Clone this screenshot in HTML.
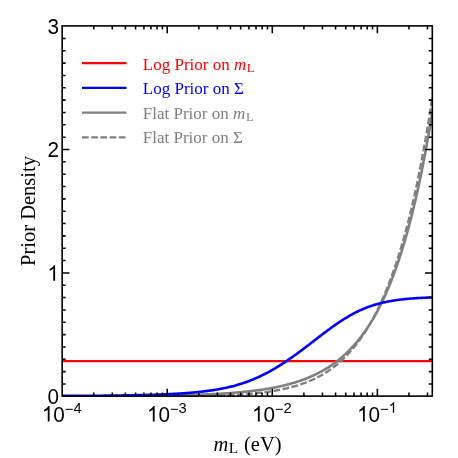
<!DOCTYPE html><html><head><meta charset="utf-8"><style>html,body{margin:0;padding:0;background:#fff}svg{display:block;will-change:transform}text{font-family:"Liberation Sans",sans-serif;fill:#000}.s{font-family:"Liberation Serif",serif}</style></head><body>
<svg width="458" height="458" viewBox="0 0 458 458">
<rect width="458" height="458" fill="#fff"/>
<defs><clipPath id="c"><rect x="61.15" y="25.90" width="371.85" height="371.00"/></clipPath></defs>
<g clip-path="url(#c)" fill="none" stroke-linejoin="round">
<path d="M62.15,361.22 L63.08,361.22 L64.01,361.22 L64.93,361.22 L65.86,361.22 L66.79,361.22 L67.72,361.22 L68.64,361.22 L69.57,361.22 L70.50,361.22 L71.43,361.22 L72.35,361.22 L73.28,361.22 L74.21,361.22 L75.14,361.22 L76.07,361.22 L76.99,361.22 L77.92,361.22 L78.85,361.22 L79.78,361.22 L80.70,361.22 L81.63,361.22 L82.56,361.22 L83.49,361.22 L84.41,361.22 L85.34,361.22 L86.27,361.22 L87.20,361.22 L88.13,361.22 L89.05,361.22 L89.98,361.22 L90.91,361.22 L91.84,361.22 L92.76,361.22 L93.69,361.22 L94.62,361.22 L95.55,361.22 L96.47,361.22 L97.40,361.22 L98.33,361.22 L99.26,361.22 L100.19,361.22 L101.11,361.22 L102.04,361.22 L102.97,361.22 L103.90,361.22 L104.82,361.22 L105.75,361.22 L106.68,361.22 L107.61,361.22 L108.53,361.22 L109.46,361.22 L110.39,361.22 L111.32,361.22 L112.25,361.22 L113.17,361.22 L114.10,361.22 L115.03,361.22 L115.96,361.22 L116.88,361.22 L117.81,361.22 L118.74,361.22 L119.67,361.22 L120.59,361.22 L121.52,361.22 L122.45,361.22 L123.38,361.22 L124.31,361.22 L125.23,361.22 L126.16,361.22 L127.09,361.22 L128.02,361.22 L128.94,361.22 L129.87,361.22 L130.80,361.22 L131.73,361.22 L132.65,361.22 L133.58,361.22 L134.51,361.22 L135.44,361.22 L136.37,361.22 L137.29,361.22 L138.22,361.22 L139.15,361.22 L140.08,361.22 L141.00,361.22 L141.93,361.22 L142.86,361.22 L143.79,361.22 L144.71,361.22 L145.64,361.22 L146.57,361.22 L147.50,361.22 L148.43,361.22 L149.35,361.22 L150.28,361.22 L151.21,361.22 L152.14,361.22 L153.06,361.22 L153.99,361.22 L154.92,361.22 L155.85,361.22 L156.77,361.22 L157.70,361.22 L158.63,361.22 L159.56,361.22 L160.49,361.22 L161.41,361.22 L162.34,361.22 L163.27,361.22 L164.20,361.22 L165.12,361.22 L166.05,361.22 L166.98,361.22 L167.91,361.22 L168.83,361.22 L169.76,361.22 L170.69,361.22 L171.62,361.22 L172.55,361.22 L173.47,361.22 L174.40,361.22 L175.33,361.22 L176.26,361.22 L177.18,361.22 L178.11,361.22 L179.04,361.22 L179.97,361.22 L180.89,361.22 L181.82,361.22 L182.75,361.22 L183.68,361.22 L184.61,361.22 L185.53,361.22 L186.46,361.22 L187.39,361.22 L188.32,361.22 L189.24,361.22 L190.17,361.22 L191.10,361.22 L192.03,361.22 L192.95,361.22 L193.88,361.22 L194.81,361.22 L195.74,361.22 L196.67,361.22 L197.59,361.22 L198.52,361.22 L199.45,361.22 L200.38,361.22 L201.30,361.22 L202.23,361.22 L203.16,361.22 L204.09,361.22 L205.01,361.22 L205.94,361.22 L206.87,361.22 L207.80,361.22 L208.73,361.22 L209.65,361.22 L210.58,361.22 L211.51,361.22 L212.44,361.22 L213.36,361.22 L214.29,361.22 L215.22,361.22 L216.15,361.22 L217.07,361.22 L218.00,361.22 L218.93,361.22 L219.86,361.22 L220.79,361.22 L221.71,361.22 L222.64,361.22 L223.57,361.22 L224.50,361.22 L225.42,361.22 L226.35,361.22 L227.28,361.22 L228.21,361.22 L229.13,361.22 L230.06,361.22 L230.99,361.22 L231.92,361.22 L232.85,361.22 L233.77,361.22 L234.70,361.22 L235.63,361.22 L236.56,361.22 L237.48,361.22 L238.41,361.22 L239.34,361.22 L240.27,361.22 L241.19,361.22 L242.12,361.22 L243.05,361.22 L243.98,361.22 L244.91,361.22 L245.83,361.22 L246.76,361.22 L247.69,361.22 L248.62,361.22 L249.54,361.22 L250.47,361.22 L251.40,361.22 L252.33,361.22 L253.26,361.22 L254.18,361.22 L255.11,361.22 L256.04,361.22 L256.97,361.22 L257.89,361.22 L258.82,361.22 L259.75,361.22 L260.68,361.22 L261.60,361.22 L262.53,361.22 L263.46,361.22 L264.39,361.22 L265.32,361.22 L266.24,361.22 L267.17,361.22 L268.10,361.22 L269.03,361.22 L269.95,361.22 L270.88,361.22 L271.81,361.22 L272.74,361.22 L273.66,361.22 L274.59,361.22 L275.52,361.22 L276.45,361.22 L277.38,361.22 L278.30,361.22 L279.23,361.22 L280.16,361.22 L281.09,361.22 L282.01,361.22 L282.94,361.22 L283.87,361.22 L284.80,361.22 L285.72,361.22 L286.65,361.22 L287.58,361.22 L288.51,361.22 L289.44,361.22 L290.36,361.22 L291.29,361.22 L292.22,361.22 L293.15,361.22 L294.07,361.22 L295.00,361.22 L295.93,361.22 L296.86,361.22 L297.78,361.22 L298.71,361.22 L299.64,361.22 L300.57,361.22 L301.50,361.22 L302.42,361.22 L303.35,361.22 L304.28,361.22 L305.21,361.22 L306.13,361.22 L307.06,361.22 L307.99,361.22 L308.92,361.22 L309.84,361.22 L310.77,361.22 L311.70,361.22 L312.63,361.22 L313.56,361.22 L314.48,361.22 L315.41,361.22 L316.34,361.22 L317.27,361.22 L318.19,361.22 L319.12,361.22 L320.05,361.22 L320.98,361.22 L321.90,361.22 L322.83,361.22 L323.76,361.22 L324.69,361.22 L325.62,361.22 L326.54,361.22 L327.47,361.22 L328.40,361.22 L329.33,361.22 L330.25,361.22 L331.18,361.22 L332.11,361.22 L333.04,361.22 L333.96,361.22 L334.89,361.22 L335.82,361.22 L336.75,361.22 L337.68,361.22 L338.60,361.22 L339.53,361.22 L340.46,361.22 L341.39,361.22 L342.31,361.22 L343.24,361.22 L344.17,361.22 L345.10,361.22 L346.02,361.22 L346.95,361.22 L347.88,361.22 L348.81,361.22 L349.74,361.22 L350.66,361.22 L351.59,361.22 L352.52,361.22 L353.45,361.22 L354.37,361.22 L355.30,361.22 L356.23,361.22 L357.16,361.22 L358.08,361.22 L359.01,361.22 L359.94,361.22 L360.87,361.22 L361.80,361.22 L362.72,361.22 L363.65,361.22 L364.58,361.22 L365.51,361.22 L366.43,361.22 L367.36,361.22 L368.29,361.22 L369.22,361.22 L370.14,361.22 L371.07,361.22 L372.00,361.22 L372.93,361.22 L373.86,361.22 L374.78,361.22 L375.71,361.22 L376.64,361.22 L377.57,361.22 L378.49,361.22 L379.42,361.22 L380.35,361.22 L381.28,361.22 L382.20,361.22 L383.13,361.22 L384.06,361.22 L384.99,361.22 L385.92,361.22 L386.84,361.22 L387.77,361.22 L388.70,361.22 L389.63,361.22 L390.55,361.22 L391.48,361.22 L392.41,361.22 L393.34,361.22 L394.26,361.22 L395.19,361.22 L396.12,361.22 L397.05,361.22 L397.98,361.22 L398.90,361.22 L399.83,361.22 L400.76,361.22 L401.69,361.22 L402.61,361.22 L403.54,361.22 L404.47,361.22 L405.40,361.22 L406.32,361.22 L407.25,361.22 L408.18,361.22 L409.11,361.22 L410.04,361.22 L410.96,361.22 L411.89,361.22 L412.82,361.22 L413.75,361.22 L414.67,361.22 L415.60,361.22 L416.53,361.22 L417.46,361.22 L418.38,361.22 L419.31,361.22 L420.24,361.22 L421.17,361.22 L422.10,361.22 L423.02,361.22 L423.95,361.22 L424.88,361.22 L425.81,361.22 L426.73,361.22 L427.66,361.22 L428.59,361.22 L429.52,361.22 L430.44,361.22 L431.37,361.22 L432.30,361.22" stroke="#ff0000" stroke-width="2.3"/>
<path d="M62.15,396.36 L63.08,396.36 L64.01,396.36 L64.93,396.36 L65.86,396.36 L66.79,396.36 L67.72,396.35 L68.64,396.35 L69.57,396.35 L70.50,396.35 L71.43,396.35 L72.35,396.34 L73.28,396.34 L74.21,396.34 L75.14,396.34 L76.07,396.33 L76.99,396.33 L77.92,396.33 L78.85,396.33 L79.78,396.32 L80.70,396.32 L81.63,396.32 L82.56,396.32 L83.49,396.31 L84.41,396.31 L85.34,396.31 L86.27,396.31 L87.20,396.30 L88.13,396.30 L89.05,396.30 L89.98,396.29 L90.91,396.29 L91.84,396.29 L92.76,396.28 L93.69,396.28 L94.62,396.28 L95.55,396.27 L96.47,396.27 L97.40,396.27 L98.33,396.26 L99.26,396.26 L100.19,396.25 L101.11,396.25 L102.04,396.25 L102.97,396.24 L103.90,396.24 L104.82,396.23 L105.75,396.23 L106.68,396.22 L107.61,396.22 L108.53,396.21 L109.46,396.21 L110.39,396.20 L111.32,396.20 L112.25,396.19 L113.17,396.19 L114.10,396.18 L115.03,396.18 L115.96,396.17 L116.88,396.17 L117.81,396.16 L118.74,396.16 L119.67,396.15 L120.59,396.14 L121.52,396.14 L122.45,396.13 L123.38,396.12 L124.31,396.12 L125.23,396.11 L126.16,396.10 L127.09,396.10 L128.02,396.09 L128.94,396.08 L129.87,396.07 L130.80,396.07 L131.73,396.06 L132.65,396.05 L133.58,396.04 L134.51,396.03 L135.44,396.03 L136.37,396.02 L137.29,396.01 L138.22,396.00 L139.15,395.99 L140.08,395.98 L141.00,395.97 L141.93,395.96 L142.86,395.95 L143.79,395.94 L144.71,395.93 L145.64,395.92 L146.57,395.91 L147.50,395.90 L148.43,395.89 L149.35,395.87 L150.28,395.86 L151.21,395.85 L152.14,395.84 L153.06,395.82 L153.99,395.81 L154.92,395.80 L155.85,395.79 L156.77,395.77 L157.70,395.76 L158.63,395.74 L159.56,395.73 L160.49,395.71 L161.41,395.70 L162.34,395.68 L163.27,395.67 L164.20,395.65 L165.12,395.64 L166.05,395.62 L166.98,395.60 L167.91,395.58 L168.83,395.57 L169.76,395.55 L170.69,395.53 L171.62,395.51 L172.55,395.49 L173.47,395.47 L174.40,395.45 L175.33,395.43 L176.26,395.41 L177.18,395.39 L178.11,395.37 L179.04,395.35 L179.97,395.32 L180.89,395.30 L181.82,395.28 L182.75,395.25 L183.68,395.23 L184.61,395.20 L185.53,395.18 L186.46,395.15 L187.39,395.12 L188.32,395.10 L189.24,395.07 L190.17,395.04 L191.10,395.01 L192.03,394.98 L192.95,394.95 L193.88,394.92 L194.81,394.89 L195.74,394.86 L196.67,394.82 L197.59,394.79 L198.52,394.76 L199.45,394.72 L200.38,394.69 L201.30,394.65 L202.23,394.61 L203.16,394.58 L204.09,394.54 L205.01,394.50 L205.94,394.46 L206.87,394.42 L207.80,394.38 L208.73,394.33 L209.65,394.29 L210.58,394.24 L211.51,394.20 L212.44,394.15 L213.36,394.11 L214.29,394.06 L215.22,394.01 L216.15,393.96 L217.07,393.91 L218.00,393.86 L218.93,393.80 L219.86,393.75 L220.79,393.69 L221.71,393.64 L222.64,393.58 L223.57,393.52 L224.50,393.46 L225.42,393.40 L226.35,393.33 L227.28,393.27 L228.21,393.20 L229.13,393.14 L230.06,393.07 L230.99,393.00 L231.92,392.93 L232.85,392.86 L233.77,392.78 L234.70,392.71 L235.63,392.63 L236.56,392.55 L237.48,392.47 L238.41,392.39 L239.34,392.31 L240.27,392.22 L241.19,392.14 L242.12,392.05 L243.05,391.96 L243.98,391.87 L244.91,391.77 L245.83,391.67 L246.76,391.58 L247.69,391.48 L248.62,391.37 L249.54,391.27 L250.47,391.16 L251.40,391.06 L252.33,390.94 L253.26,390.83 L254.18,390.72 L255.11,390.60 L256.04,390.48 L256.97,390.36 L257.89,390.23 L258.82,390.10 L259.75,389.97 L260.68,389.84 L261.60,389.70 L262.53,389.56 L263.46,389.42 L264.39,389.28 L265.32,389.13 L266.24,388.98 L267.17,388.83 L268.10,388.67 L269.03,388.51 L269.95,388.35 L270.88,388.18 L271.81,388.01 L272.74,387.84 L273.66,387.66 L274.59,387.48 L275.52,387.30 L276.45,387.11 L277.38,386.92 L278.30,386.72 L279.23,386.52 L280.16,386.32 L281.09,386.11 L282.01,385.90 L282.94,385.68 L283.87,385.46 L284.80,385.23 L285.72,385.00 L286.65,384.77 L287.58,384.53 L288.51,384.28 L289.44,384.03 L290.36,383.78 L291.29,383.52 L292.22,383.25 L293.15,382.98 L294.07,382.71 L295.00,382.42 L295.93,382.14 L296.86,381.84 L297.78,381.54 L298.71,381.24 L299.64,380.92 L300.57,380.60 L301.50,380.28 L302.42,379.95 L303.35,379.61 L304.28,379.26 L305.21,378.91 L306.13,378.55 L307.06,378.18 L307.99,377.81 L308.92,377.42 L309.84,377.03 L310.77,376.63 L311.70,376.23 L312.63,375.81 L313.56,375.39 L314.48,374.95 L315.41,374.51 L316.34,374.06 L317.27,373.60 L318.19,373.13 L319.12,372.65 L320.05,372.17 L320.98,371.67 L321.90,371.16 L322.83,370.64 L323.76,370.11 L324.69,369.57 L325.62,369.02 L326.54,368.45 L327.47,367.88 L328.40,367.29 L329.33,366.69 L330.25,366.08 L331.18,365.46 L332.11,364.82 L333.04,364.17 L333.96,363.51 L334.89,362.83 L335.82,362.14 L336.75,361.44 L337.68,360.72 L338.60,359.98 L339.53,359.23 L340.46,358.47 L341.39,357.69 L342.31,356.89 L343.24,356.08 L344.17,355.25 L345.10,354.41 L346.02,353.54 L346.95,352.66 L347.88,351.76 L348.81,350.84 L349.74,349.91 L350.66,348.95 L351.59,347.98 L352.52,346.98 L353.45,345.96 L354.37,344.93 L355.30,343.87 L356.23,342.79 L357.16,341.69 L358.08,340.56 L359.01,339.41 L359.94,338.24 L360.87,337.05 L361.80,335.83 L362.72,334.58 L363.65,333.31 L364.58,332.01 L365.51,330.69 L366.43,329.34 L367.36,327.96 L368.29,326.56 L369.22,325.12 L370.14,323.66 L371.07,322.16 L372.00,320.63 L372.93,319.08 L373.86,317.49 L374.78,315.87 L375.71,314.21 L376.64,312.52 L377.57,310.80 L378.49,309.04 L379.42,307.24 L380.35,305.41 L381.28,303.54 L382.20,301.63 L383.13,299.69 L384.06,297.70 L384.99,295.67 L385.92,293.60 L386.84,291.49 L387.77,289.33 L388.70,287.13 L389.63,284.89 L390.55,282.60 L391.48,280.26 L392.41,277.87 L393.34,275.44 L394.26,272.95 L395.19,270.42 L396.12,267.83 L397.05,265.19 L397.98,262.49 L398.90,259.74 L399.83,256.93 L400.76,254.06 L401.69,251.14 L402.61,248.16 L403.54,245.11 L404.47,242.00 L405.40,238.83 L406.32,235.59 L407.25,232.29 L408.18,228.92 L409.11,225.48 L410.04,221.96 L410.96,218.38 L411.89,214.72 L412.82,210.99 L413.75,207.18 L414.67,203.30 L415.60,199.33 L416.53,195.28 L417.46,191.15 L418.38,186.93 L419.31,182.63 L420.24,178.24 L421.17,173.76 L422.10,169.18 L423.02,164.51 L423.95,159.75 L424.88,154.89 L425.81,149.93 L426.73,144.86 L427.66,139.70 L428.59,134.42 L429.52,129.04 L430.44,123.55 L431.37,117.95 L432.30,112.23" stroke="#808080" stroke-width="2.6"/>
<path d="M62.15,396.97 L63.08,396.97 L64.01,396.97 L64.93,396.97 L65.86,396.97 L66.79,396.97 L67.72,396.97 L68.64,396.96 L69.57,396.96 L70.50,396.96 L71.43,396.96 L72.35,396.96 L73.28,396.96 L74.21,396.96 L75.14,396.96 L76.07,396.96 L76.99,396.96 L77.92,396.96 L78.85,396.96 L79.78,396.95 L80.70,396.95 L81.63,396.95 L82.56,396.95 L83.49,396.95 L84.41,396.95 L85.34,396.95 L86.27,396.95 L87.20,396.95 L88.13,396.95 L89.05,396.94 L89.98,396.94 L90.91,396.94 L91.84,396.94 L92.76,396.94 L93.69,396.94 L94.62,396.94 L95.55,396.94 L96.47,396.93 L97.40,396.93 L98.33,396.93 L99.26,396.93 L100.19,396.93 L101.11,396.93 L102.04,396.93 L102.97,396.92 L103.90,396.92 L104.82,396.92 L105.75,396.92 L106.68,396.92 L107.61,396.92 L108.53,396.91 L109.46,396.91 L110.39,396.91 L111.32,396.91 L112.25,396.91 L113.17,396.90 L114.10,396.90 L115.03,396.90 L115.96,396.90 L116.88,396.90 L117.81,396.89 L118.74,396.89 L119.67,396.89 L120.59,396.89 L121.52,396.88 L122.45,396.88 L123.38,396.88 L124.31,396.88 L125.23,396.87 L126.16,396.87 L127.09,396.87 L128.02,396.87 L128.94,396.86 L129.87,396.86 L130.80,396.86 L131.73,396.85 L132.65,396.85 L133.58,396.85 L134.51,396.84 L135.44,396.84 L136.37,396.84 L137.29,396.83 L138.22,396.83 L139.15,396.83 L140.08,396.82 L141.00,396.82 L141.93,396.81 L142.86,396.81 L143.79,396.81 L144.71,396.80 L145.64,396.80 L146.57,396.79 L147.50,396.79 L148.43,396.78 L149.35,396.78 L150.28,396.77 L151.21,396.77 L152.14,396.76 L153.06,396.76 L153.99,396.75 L154.92,396.75 L155.85,396.74 L156.77,396.74 L157.70,396.73 L158.63,396.72 L159.56,396.72 L160.49,396.71 L161.41,396.70 L162.34,396.70 L163.27,396.69 L164.20,396.68 L165.12,396.68 L166.05,396.67 L166.98,396.66 L167.91,396.65 L168.83,396.65 L169.76,396.64 L170.69,396.63 L171.62,396.62 L172.55,396.61 L173.47,396.60 L174.40,396.59 L175.33,396.58 L176.26,396.57 L177.18,396.56 L178.11,396.55 L179.04,396.54 L179.97,396.53 L180.89,396.52 L181.82,396.51 L182.75,396.50 L183.68,396.49 L184.61,396.47 L185.53,396.46 L186.46,396.45 L187.39,396.43 L188.32,396.42 L189.24,396.41 L190.17,396.39 L191.10,396.38 L192.03,396.36 L192.95,396.35 L193.88,396.33 L194.81,396.32 L195.74,396.30 L196.67,396.28 L197.59,396.26 L198.52,396.25 L199.45,396.23 L200.38,396.21 L201.30,396.19 L202.23,396.17 L203.16,396.15 L204.09,396.13 L205.01,396.10 L205.94,396.08 L206.87,396.06 L207.80,396.03 L208.73,396.01 L209.65,395.99 L210.58,395.96 L211.51,395.93 L212.44,395.91 L213.36,395.88 L214.29,395.85 L215.22,395.82 L216.15,395.79 L217.07,395.76 L218.00,395.73 L218.93,395.69 L219.86,395.66 L220.79,395.62 L221.71,395.59 L222.64,395.55 L223.57,395.51 L224.50,395.48 L225.42,395.44 L226.35,395.39 L227.28,395.35 L228.21,395.31 L229.13,395.26 L230.06,395.22 L230.99,395.17 L231.92,395.12 L232.85,395.07 L233.77,395.02 L234.70,394.97 L235.63,394.92 L236.56,394.86 L237.48,394.80 L238.41,394.74 L239.34,394.68 L240.27,394.62 L241.19,394.56 L242.12,394.49 L243.05,394.43 L243.98,394.36 L244.91,394.29 L245.83,394.21 L246.76,394.14 L247.69,394.06 L248.62,393.99 L249.54,393.90 L250.47,393.82 L251.40,393.74 L252.33,393.65 L253.26,393.56 L254.18,393.47 L255.11,393.37 L256.04,393.28 L256.97,393.18 L257.89,393.08 L258.82,392.97 L259.75,392.87 L260.68,392.76 L261.60,392.64 L262.53,392.53 L263.46,392.41 L264.39,392.29 L265.32,392.17 L266.24,392.04 L267.17,391.91 L268.10,391.78 L269.03,391.64 L269.95,391.50 L270.88,391.36 L271.81,391.21 L272.74,391.06 L273.66,390.90 L274.59,390.75 L275.52,390.58 L276.45,390.42 L277.38,390.25 L278.30,390.08 L279.23,389.90 L280.16,389.72 L281.09,389.53 L282.01,389.34 L282.94,389.14 L283.87,388.94 L284.80,388.74 L285.72,388.53 L286.65,388.31 L287.58,388.09 L288.51,387.87 L289.44,387.64 L290.36,387.40 L291.29,387.16 L292.22,386.91 L293.15,386.66 L294.07,386.40 L295.00,386.13 L295.93,385.86 L296.86,385.58 L297.78,385.30 L298.71,385.01 L299.64,384.71 L300.57,384.40 L301.50,384.09 L302.42,383.77 L303.35,383.44 L304.28,383.11 L305.21,382.76 L306.13,382.41 L307.06,382.05 L307.99,381.68 L308.92,381.30 L309.84,380.92 L310.77,380.52 L311.70,380.11 L312.63,379.70 L313.56,379.28 L314.48,378.84 L315.41,378.40 L316.34,377.94 L317.27,377.47 L318.19,377.00 L319.12,376.51 L320.05,376.01 L320.98,375.50 L321.90,374.97 L322.83,374.44 L323.76,373.89 L324.69,373.33 L325.62,372.75 L326.54,372.16 L327.47,371.56 L328.40,370.95 L329.33,370.32 L330.25,369.67 L331.18,369.02 L332.11,368.34 L333.04,367.65 L333.96,366.95 L334.89,366.23 L335.82,365.49 L336.75,364.74 L337.68,363.97 L338.60,363.18 L339.53,362.38 L340.46,361.55 L341.39,360.71 L342.31,359.85 L343.24,358.98 L344.17,358.08 L345.10,357.16 L346.02,356.23 L346.95,355.27 L347.88,354.30 L348.81,353.30 L349.74,352.28 L350.66,351.24 L351.59,350.18 L352.52,349.09 L353.45,347.98 L354.37,346.85 L355.30,345.70 L356.23,344.52 L357.16,343.32 L358.08,342.09 L359.01,340.84 L359.94,339.56 L360.87,338.25 L361.80,336.92 L362.72,335.56 L363.65,334.18 L364.58,332.76 L365.51,331.32 L366.43,329.84 L367.36,328.34 L368.29,326.81 L369.22,325.24 L370.14,323.65 L371.07,322.02 L372.00,320.36 L372.93,318.67 L373.86,316.94 L374.78,315.18 L375.71,313.38 L376.64,311.54 L377.57,309.67 L378.49,307.77 L379.42,305.82 L380.35,303.84 L381.28,301.81 L382.20,299.75 L383.13,297.64 L384.06,295.49 L384.99,293.30 L385.92,291.06 L386.84,288.79 L387.77,286.46 L388.70,284.09 L389.63,281.67 L390.55,279.20 L391.48,276.68 L392.41,274.12 L393.34,271.50 L394.26,268.83 L395.19,266.10 L396.12,263.32 L397.05,260.49 L397.98,257.59 L398.90,254.64 L399.83,251.63 L400.76,248.56 L401.69,245.43 L402.61,242.24 L403.54,238.98 L404.47,235.65 L405.40,232.26 L406.32,228.80 L407.25,225.27 L408.18,221.67 L409.11,217.99 L410.04,214.24 L410.96,210.42 L411.89,206.52 L412.82,202.54 L413.75,198.48 L414.67,194.33 L415.60,190.11 L416.53,185.79 L417.46,181.39 L418.38,176.90 L419.31,172.32 L420.24,167.65 L421.17,162.88 L422.10,158.01 L423.02,153.05 L423.95,147.98 L424.88,142.81 L425.81,137.54 L426.73,132.16 L427.66,126.67 L428.59,121.07 L429.52,115.35 L430.44,109.52 L431.37,103.57 L432.30,97.49" stroke="#808080" stroke-width="2.3" stroke-dasharray="6.7,2.5"/>
<path d="M62.15,395.93 L63.08,395.92 L64.01,395.92 L64.93,395.92 L65.86,395.91 L66.79,395.91 L67.72,395.91 L68.64,395.90 L69.57,395.90 L70.50,395.89 L71.43,395.89 L72.35,395.88 L73.28,395.88 L74.21,395.88 L75.14,395.87 L76.07,395.87 L76.99,395.86 L77.92,395.86 L78.85,395.85 L79.78,395.85 L80.70,395.84 L81.63,395.84 L82.56,395.83 L83.49,395.82 L84.41,395.82 L85.34,395.81 L86.27,395.81 L87.20,395.80 L88.13,395.79 L89.05,395.79 L89.98,395.78 L90.91,395.77 L91.84,395.77 L92.76,395.76 L93.69,395.75 L94.62,395.75 L95.55,395.74 L96.47,395.73 L97.40,395.72 L98.33,395.72 L99.26,395.71 L100.19,395.70 L101.11,395.69 L102.04,395.68 L102.97,395.67 L103.90,395.66 L104.82,395.66 L105.75,395.65 L106.68,395.64 L107.61,395.63 L108.53,395.62 L109.46,395.61 L110.39,395.60 L111.32,395.59 L112.25,395.57 L113.17,395.56 L114.10,395.55 L115.03,395.54 L115.96,395.53 L116.88,395.52 L117.81,395.50 L118.74,395.49 L119.67,395.48 L120.59,395.46 L121.52,395.45 L122.45,395.44 L123.38,395.42 L124.31,395.41 L125.23,395.39 L126.16,395.38 L127.09,395.36 L128.02,395.35 L128.94,395.33 L129.87,395.31 L130.80,395.30 L131.73,395.28 L132.65,395.26 L133.58,395.24 L134.51,395.23 L135.44,395.21 L136.37,395.19 L137.29,395.17 L138.22,395.15 L139.15,395.13 L140.08,395.11 L141.00,395.08 L141.93,395.06 L142.86,395.04 L143.79,395.02 L144.71,394.99 L145.64,394.97 L146.57,394.94 L147.50,394.92 L148.43,394.89 L149.35,394.86 L150.28,394.84 L151.21,394.81 L152.14,394.78 L153.06,394.75 L153.99,394.72 L154.92,394.69 L155.85,394.66 L156.77,394.63 L157.70,394.60 L158.63,394.56 L159.56,394.53 L160.49,394.49 L161.41,394.46 L162.34,394.42 L163.27,394.38 L164.20,394.34 L165.12,394.30 L166.05,394.26 L166.98,394.22 L167.91,394.18 L168.83,394.14 L169.76,394.09 L170.69,394.05 L171.62,394.00 L172.55,393.95 L173.47,393.90 L174.40,393.85 L175.33,393.80 L176.26,393.75 L177.18,393.69 L178.11,393.64 L179.04,393.58 L179.97,393.52 L180.89,393.47 L181.82,393.40 L182.75,393.34 L183.68,393.28 L184.61,393.21 L185.53,393.15 L186.46,393.08 L187.39,393.01 L188.32,392.93 L189.24,392.86 L190.17,392.78 L191.10,392.71 L192.03,392.63 L192.95,392.54 L193.88,392.46 L194.81,392.37 L195.74,392.28 L196.67,392.19 L197.59,392.10 L198.52,392.01 L199.45,391.91 L200.38,391.81 L201.30,391.71 L202.23,391.60 L203.16,391.49 L204.09,391.38 L205.01,391.27 L205.94,391.15 L206.87,391.03 L207.80,390.91 L208.73,390.78 L209.65,390.66 L210.58,390.52 L211.51,390.39 L212.44,390.25 L213.36,390.11 L214.29,389.96 L215.22,389.81 L216.15,389.66 L217.07,389.50 L218.00,389.34 L218.93,389.18 L219.86,389.01 L220.79,388.83 L221.71,388.65 L222.64,388.47 L223.57,388.29 L224.50,388.09 L225.42,387.90 L226.35,387.70 L227.28,387.49 L228.21,387.28 L229.13,387.06 L230.06,386.84 L230.99,386.62 L231.92,386.38 L232.85,386.15 L233.77,385.90 L234.70,385.66 L235.63,385.40 L236.56,385.14 L237.48,384.87 L238.41,384.60 L239.34,384.32 L240.27,384.04 L241.19,383.75 L242.12,383.45 L243.05,383.14 L243.98,382.83 L244.91,382.52 L245.83,382.19 L246.76,381.86 L247.69,381.52 L248.62,381.18 L249.54,380.83 L250.47,380.47 L251.40,380.10 L252.33,379.73 L253.26,379.35 L254.18,378.96 L255.11,378.57 L256.04,378.17 L256.97,377.76 L257.89,377.34 L258.82,376.92 L259.75,376.49 L260.68,376.05 L261.60,375.61 L262.53,375.15 L263.46,374.69 L264.39,374.22 L265.32,373.75 L266.24,373.27 L267.17,372.78 L268.10,372.28 L269.03,371.78 L269.95,371.27 L270.88,370.75 L271.81,370.23 L272.74,369.70 L273.66,369.16 L274.59,368.61 L275.52,368.06 L276.45,367.50 L277.38,366.94 L278.30,366.37 L279.23,365.79 L280.16,365.21 L281.09,364.62 L282.01,364.02 L282.94,363.42 L283.87,362.81 L284.80,362.20 L285.72,361.58 L286.65,360.96 L287.58,360.33 L288.51,359.69 L289.44,359.05 L290.36,358.41 L291.29,357.76 L292.22,357.10 L293.15,356.45 L294.07,355.78 L295.00,355.12 L295.93,354.44 L296.86,353.77 L297.78,353.09 L298.71,352.41 L299.64,351.72 L300.57,351.03 L301.50,350.34 L302.42,349.64 L303.35,348.94 L304.28,348.24 L305.21,347.54 L306.13,346.84 L307.06,346.13 L307.99,345.42 L308.92,344.71 L309.84,344.00 L310.77,343.29 L311.70,342.57 L312.63,341.86 L313.56,341.14 L314.48,340.43 L315.41,339.71 L316.34,339.00 L317.27,338.29 L318.19,337.57 L319.12,336.86 L320.05,336.15 L320.98,335.44 L321.90,334.73 L322.83,334.03 L323.76,333.33 L324.69,332.63 L325.62,331.93 L326.54,331.24 L327.47,330.55 L328.40,329.86 L329.33,329.18 L330.25,328.50 L331.18,327.82 L332.11,327.15 L333.04,326.49 L333.96,325.83 L334.89,325.18 L335.82,324.53 L336.75,323.89 L337.68,323.25 L338.60,322.63 L339.53,322.00 L340.46,321.39 L341.39,320.78 L342.31,320.18 L343.24,319.59 L344.17,319.01 L345.10,318.43 L346.02,317.86 L346.95,317.30 L347.88,316.75 L348.81,316.21 L349.74,315.68 L350.66,315.15 L351.59,314.64 L352.52,314.13 L353.45,313.64 L354.37,313.15 L355.30,312.67 L356.23,312.20 L357.16,311.74 L358.08,311.29 L359.01,310.85 L359.94,310.42 L360.87,310.00 L361.80,309.59 L362.72,309.19 L363.65,308.80 L364.58,308.41 L365.51,308.04 L366.43,307.67 L367.36,307.32 L368.29,306.97 L369.22,306.64 L370.14,306.31 L371.07,305.99 L372.00,305.68 L372.93,305.37 L373.86,305.08 L374.78,304.79 L375.71,304.52 L376.64,304.25 L377.57,303.99 L378.49,303.73 L379.42,303.49 L380.35,303.25 L381.28,303.02 L382.20,302.79 L383.13,302.58 L384.06,302.37 L384.99,302.16 L385.92,301.97 L386.84,301.78 L387.77,301.59 L388.70,301.41 L389.63,301.24 L390.55,301.07 L391.48,300.91 L392.41,300.76 L393.34,300.61 L394.26,300.46 L395.19,300.32 L396.12,300.19 L397.05,300.06 L397.98,299.93 L398.90,299.81 L399.83,299.69 L400.76,299.58 L401.69,299.47 L402.61,299.36 L403.54,299.26 L404.47,299.16 L405.40,299.07 L406.32,298.98 L407.25,298.89 L408.18,298.81 L409.11,298.72 L410.04,298.65 L410.96,298.57 L411.89,298.50 L412.82,298.43 L413.75,298.36 L414.67,298.30 L415.60,298.23 L416.53,298.17 L417.46,298.12 L418.38,298.06 L419.31,298.01 L420.24,297.96 L421.17,297.91 L422.10,297.86 L423.02,297.81 L423.95,297.77 L424.88,297.73 L425.81,297.69 L426.73,297.65 L427.66,297.61 L428.59,297.57 L429.52,297.54 L430.44,297.51 L431.37,297.47 L432.30,297.44" stroke="#0000ff" stroke-width="2.6"/>
</g>
<path d="M93.78,396.10 v-3.50 M93.78,25.90 v3.50 M112.28,396.10 v-3.50 M112.28,25.90 v3.50 M125.41,396.10 v-3.50 M125.41,25.90 v3.50 M135.59,396.10 v-3.50 M135.59,25.90 v3.50 M143.91,396.10 v-3.50 M143.91,25.90 v3.50 M150.94,396.10 v-3.50 M150.94,25.90 v3.50 M157.04,396.10 v-3.50 M157.04,25.90 v3.50 M162.41,396.10 v-3.50 M162.41,25.90 v3.50 M167.22,396.10 v-7.30 M167.22,25.90 v7.30 M198.85,396.10 v-3.50 M198.85,25.90 v3.50 M217.35,396.10 v-3.50 M217.35,25.90 v3.50 M230.48,396.10 v-3.50 M230.48,25.90 v3.50 M240.66,396.10 v-3.50 M240.66,25.90 v3.50 M248.98,396.10 v-3.50 M248.98,25.90 v3.50 M256.02,396.10 v-3.50 M256.02,25.90 v3.50 M262.11,396.10 v-3.50 M262.11,25.90 v3.50 M267.48,396.10 v-3.50 M267.48,25.90 v3.50 M272.29,396.10 v-7.30 M272.29,25.90 v7.30 M303.92,396.10 v-3.50 M303.92,25.90 v3.50 M322.42,396.10 v-3.50 M322.42,25.90 v3.50 M335.55,396.10 v-3.50 M335.55,25.90 v3.50 M345.73,396.10 v-3.50 M345.73,25.90 v3.50 M354.05,396.10 v-3.50 M354.05,25.90 v3.50 M361.09,396.10 v-3.50 M361.09,25.90 v3.50 M367.18,396.10 v-3.50 M367.18,25.90 v3.50 M372.55,396.10 v-3.50 M372.55,25.90 v3.50 M377.36,396.10 v-7.30 M377.36,25.90 v7.30 M408.99,396.10 v-3.50 M408.99,25.90 v3.50 M427.49,396.10 v-3.50 M427.49,25.90 v3.50 M62.15,383.96 h3.50 M432.30,383.96 h-3.50 M62.15,371.62 h3.50 M432.30,371.62 h-3.50 M62.15,359.28 h3.50 M432.30,359.28 h-3.50 M62.15,346.94 h3.50 M432.30,346.94 h-3.50 M62.15,334.60 h3.50 M432.30,334.60 h-3.50 M62.15,322.26 h3.50 M432.30,322.26 h-3.50 M62.15,309.92 h3.50 M432.30,309.92 h-3.50 M62.15,297.58 h3.50 M432.30,297.58 h-3.50 M62.15,285.24 h3.50 M432.30,285.24 h-3.50 M62.15,272.90 h7.30 M432.30,272.90 h-7.30 M62.15,260.56 h3.50 M432.30,260.56 h-3.50 M62.15,248.22 h3.50 M432.30,248.22 h-3.50 M62.15,235.88 h3.50 M432.30,235.88 h-3.50 M62.15,223.54 h3.50 M432.30,223.54 h-3.50 M62.15,211.20 h3.50 M432.30,211.20 h-3.50 M62.15,198.86 h3.50 M432.30,198.86 h-3.50 M62.15,186.52 h3.50 M432.30,186.52 h-3.50 M62.15,174.18 h3.50 M432.30,174.18 h-3.50 M62.15,161.84 h3.50 M432.30,161.84 h-3.50 M62.15,149.50 h7.30 M432.30,149.50 h-7.30 M62.15,137.16 h3.50 M432.30,137.16 h-3.50 M62.15,124.82 h3.50 M432.30,124.82 h-3.50 M62.15,112.48 h3.50 M432.30,112.48 h-3.50 M62.15,100.14 h3.50 M432.30,100.14 h-3.50 M62.15,87.80 h3.50 M432.30,87.80 h-3.50 M62.15,75.46 h3.50 M432.30,75.46 h-3.50 M62.15,63.12 h3.50 M432.30,63.12 h-3.50 M62.15,50.78 h3.50 M432.30,50.78 h-3.50 M62.15,38.44 h3.50 M432.30,38.44 h-3.50" stroke="#000" stroke-width="1.55" fill="none"/>
<rect x="62.15" y="25.90" width="370.15" height="370.20" fill="none" stroke="#000" stroke-width="1.6"/>
<text transform="translate(58.9,404.05) scale(1,1.04)" font-size="20.7" text-anchor="end">0</text>
<path d="M372.6,0H284.7V560Q252.9,529.8 201.4,499.5Q149.9,469.2 108.9,454.1V539Q182.6,573.7 237.8,623Q293,672.4 315.9,718.75H372.6Z" fill="#000" transform="translate(47.39,280.65) scale(0.02070,-0.02153)"/>
<text transform="translate(58.9,157.25) scale(1,1.04)" font-size="20.7" text-anchor="end">2</text>
<text transform="translate(58.9,33.85) scale(1,1.04)" font-size="20.7" text-anchor="end">3</text>
<path d="M372.6,0H284.7V560Q252.9,529.8 201.4,499.5Q149.9,469.2 108.9,454.1V539Q182.6,573.7 237.8,623Q293,672.4 315.9,718.75H372.6Z" fill="#000" transform="translate(41.86,421.50) scale(0.02070,-0.02153)"/>
<text transform="translate(53.37,421.50) scale(1,1.04)" font-size="20.7">0</text>
<text x="64.88" y="413.90" font-size="14.7">−</text>
<text transform="translate(73.47,412.74) scale(1,1)" font-size="14.7">4</text>
<path d="M372.6,0H284.7V560Q252.9,529.8 201.4,499.5Q149.9,469.2 108.9,454.1V539Q182.6,573.7 237.8,623Q293,672.4 315.9,718.75H372.6Z" fill="#000" transform="translate(146.93,421.50) scale(0.02070,-0.02153)"/>
<text transform="translate(158.44,421.50) scale(1,1.04)" font-size="20.7">0</text>
<text x="169.95" y="413.90" font-size="14.7">−</text>
<text transform="translate(178.54,412.74) scale(1,1)" font-size="14.7">3</text>
<path d="M372.6,0H284.7V560Q252.9,529.8 201.4,499.5Q149.9,469.2 108.9,454.1V539Q182.6,573.7 237.8,623Q293,672.4 315.9,718.75H372.6Z" fill="#000" transform="translate(252.00,421.50) scale(0.02070,-0.02153)"/>
<text transform="translate(263.51,421.50) scale(1,1.04)" font-size="20.7">0</text>
<text x="275.02" y="413.90" font-size="14.7">−</text>
<text transform="translate(283.61,412.74) scale(1,1)" font-size="14.7">2</text>
<path d="M372.6,0H284.7V560Q252.9,529.8 201.4,499.5Q149.9,469.2 108.9,454.1V539Q182.6,573.7 237.8,623Q293,672.4 315.9,718.75H372.6Z" fill="#000" transform="translate(357.07,421.50) scale(0.02070,-0.02153)"/>
<text transform="translate(368.58,421.50) scale(1,1.04)" font-size="20.7">0</text>
<text x="380.09" y="413.90" font-size="14.7">−</text>
<path d="M372.6,0H284.7V560Q252.9,529.8 201.4,499.5Q149.9,469.2 108.9,454.1V539Q182.6,573.7 237.8,623Q293,672.4 315.9,718.75H372.6Z" fill="#000" transform="translate(388.68,412.74) scale(0.01470,-0.01470)"/>
<text class="s" x="247.5" y="450.8" font-size="20.5" text-anchor="middle"><tspan font-style="italic">m</tspan><tspan font-size="15.375" dy="2.5" dx="0.6">L</tspan><tspan dy="-2.5" dx="0.7"> (eV)</tspan></text>
<text class="s" transform="translate(35,211) rotate(-90)" font-size="20.5" text-anchor="middle">Prior Density</text>
<path d="M82,63.10 H126.5" stroke="#ff0000" stroke-width="2.3" fill="none"/>
<text class="s" x="142.8" y="69.50" font-size="17" style="fill:#ff0000">Log Prior on <tspan font-style="italic">m</tspan><tspan font-size="12.75" dy="2.1" dx="0.6">L</tspan></text>
<path d="M82,87.80 H126.5" stroke="#0000ff" stroke-width="2.3" fill="none"/>
<text class="s" x="142.8" y="94.10" font-size="17" style="fill:#0000ff">Log Prior on Σ</text>
<path d="M82,112.60 H126.5" stroke="#808080" stroke-width="2.3" fill="none"/>
<text class="s" x="142.8" y="118.70" font-size="17" style="fill:#808080">Flat Prior on <tspan font-style="italic">m</tspan><tspan font-size="12.75" dy="2.1" dx="0.6">L</tspan></text>
<path d="M82,137.30 H126.5" stroke="#808080" stroke-width="2.3" stroke-dasharray="6.7,2.5" fill="none"/>
<text class="s" x="142.8" y="143.25" font-size="17" style="fill:#808080">Flat Prior on Σ</text>
</svg></body></html>
